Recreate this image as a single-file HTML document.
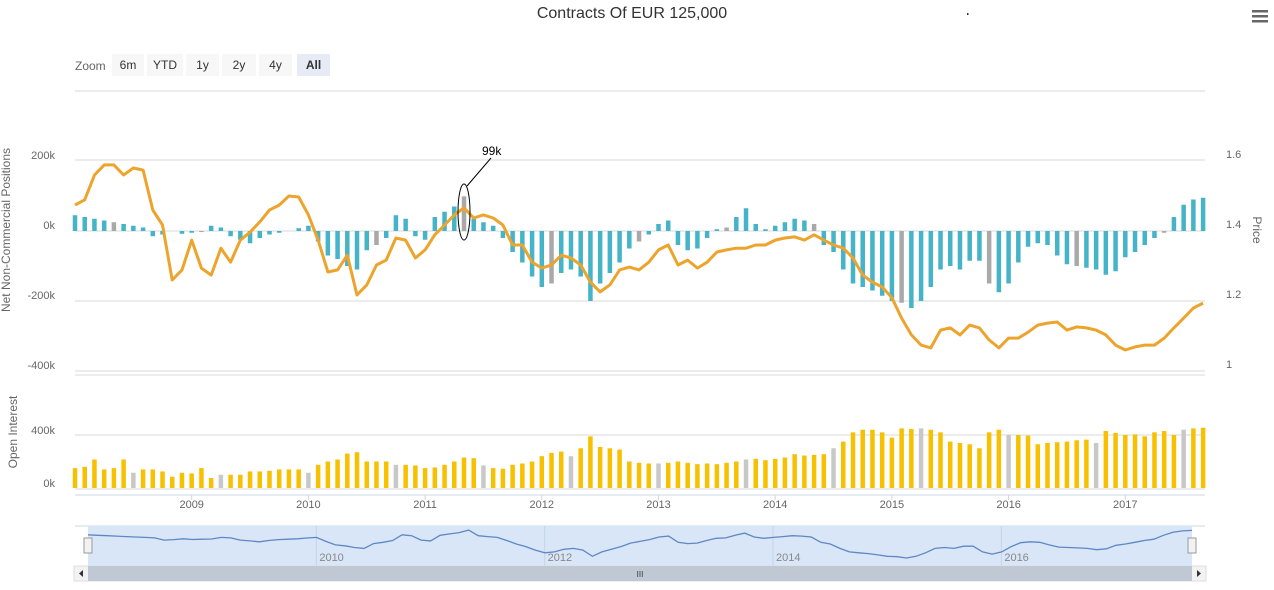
<!DOCTYPE html>
<html><head><meta charset="utf-8"><style>
body{margin:0;background:#fff;font-family:"Liberation Sans",sans-serif;}
svg text{font-family:"Liberation Sans",sans-serif;}
</style></head><body>
<svg id="c" width="1274" height="585" xmlns="http://www.w3.org/2000/svg">
<rect width="1274" height="585" fill="#fff"/>
<text x="632" y="18" text-anchor="middle" font-size="16" fill="#333">Contracts Of EUR 125,000</text>
<rect x="967" y="13" width="1.5" height="2" fill="#333"/>
<g>
<rect x="1252" y="10" width="16" height="2.5" fill="#666"/><rect x="1252" y="15" width="16" height="2.5" fill="#666"/><rect x="1252" y="20" width="16" height="2.5" fill="#666"/>
</g>
<text x="75" y="70" font-size="12" fill="#666">Zoom</text>
<g id="btns"></g>
<g id="plot"></g>
<g id="nav"></g>
</svg>
<script>
const years=['2009','2010','2011','2012','2013','2014','2015','2016','2017'];
const leftTicks=[200,0,-200,-400];
const priceTicks=[1.6,1.4,1.2,1];
const oiTicks=[400,0];
const price=[1.454,1.469,1.540,1.569,1.569,1.540,1.560,1.554,1.440,1.397,1.240,1.269,1.354,1.274,1.254,1.331,1.291,1.354,1.377,1.406,1.440,1.454,1.480,1.477,1.426,1.354,1.263,1.269,1.311,1.197,1.226,1.283,1.297,1.360,1.354,1.303,1.326,1.369,1.397,1.426,1.446,1.417,1.426,1.417,1.397,1.340,1.340,1.291,1.274,1.283,1.311,1.303,1.283,1.234,1.206,1.226,1.269,1.277,1.269,1.291,1.326,1.340,1.283,1.297,1.274,1.291,1.320,1.326,1.331,1.331,1.340,1.340,1.354,1.360,1.363,1.354,1.369,1.354,1.340,1.331,1.303,1.254,1.234,1.220,1.189,1.131,1.083,1.054,1.046,1.097,1.103,1.083,1.111,1.103,1.069,1.046,1.074,1.074,1.091,1.111,1.117,1.120,1.097,1.106,1.103,1.097,1.083,1.054,1.040,1.049,1.054,1.054,1.074,1.103,1.131,1.160,1.174];
const positions=[45,40,35,30,25,20,15,10,-15,-10,0,-8,-5,-3,15,10,-15,-25,-35,-20,-10,-5,0,8,15,-30,-70,-80,-100,-110,-55,-40,-20,45,35,-15,-25,40,55,70,99,35,25,15,-20,-60,-90,-130,-160,-150,-120,-110,-130,-200,-150,-120,-90,-50,-30,-10,20,30,-40,-55,-50,-20,5,10,40,65,20,5,15,25,35,30,20,-40,-60,-110,-150,-160,-170,-185,-200,-205,-220,-200,-160,-110,-100,-110,-85,-85,-150,-175,-150,-90,-45,-35,-40,-70,-95,-100,-105,-110,-125,-115,-75,-60,-40,-20,-5,40,75,90,95];
const openInterest=[150,160,215,140,150,215,115,140,140,125,85,115,110,150,75,100,100,100,125,125,130,140,140,140,115,175,200,215,260,270,200,200,200,175,175,170,150,155,175,200,230,225,170,150,145,175,185,200,240,265,275,240,300,390,310,300,290,200,190,185,185,190,200,190,180,185,180,190,200,215,220,210,220,230,255,245,250,255,300,350,420,440,440,420,380,450,445,450,440,420,350,340,330,300,420,440,400,400,395,330,340,345,350,360,365,340,430,415,400,405,390,420,430,400,440,450,455];
const startYear=2008.0;
const NS='http://www.w3.org/2000/svg';
function mk(tag,attrs,parent){const e=document.createElementNS(NS,tag);for(const k in attrs)e.setAttribute(k,attrs[k]);parent.appendChild(e);return e;}
const X0=75,X1=1205,pxYear=116.7,BW=4.5;
function xYear(y){return X0+(y-startYear)*pxYear;}
function xIdx(i){return xYear(startYear+i/12);}
function yPos(v){return 231-v*70/200;}
function yPrice(p){return 364-(p-1)*350;}
function yOI(v){return 488-v*53/400;}
const plot=document.getElementById('plot');
const btnLabels=['6m','YTD','1y','2y','4y','All'];
const btnX=[112,147,186,222,259,297],btnW=[32,36,33,34,33,33];
const bg=document.getElementById('btns');
btnLabels.forEach((b,i)=>{
 const g=mk('g',{},bg);
 
 
 mk('rect',{x:btnX[i],y:54,width:btnW[i],height:22,fill:i==5?'#e6ebf5':'#f7f7f7'},g);
 const t=mk('text',{x:btnX[i]+btnW[i]/2,y:69,'text-anchor':'middle','font-size':12,fill:'#333','font-weight':i==5?'bold':'normal'},g);
 t.textContent=b;
});
[91,160,231,301,371,375,435,489].forEach(y=>{const l=mk('line',{x1:X0,x2:X1,y1:y,y2:y,stroke:'#d8d8d8','stroke-width':1},plot);

});
mk('line',{x1:X0,x2:X1,y1:495,y2:495,stroke:'#ccd6eb'},plot);
leftTicks.forEach(v=>{const t=mk('text',{x:55,y:yPos(v)-2,'text-anchor':'end','font-size':11,fill:'#666'},plot);t.textContent=v+'k';

});
priceTicks.forEach(v=>{const t=mk('text',{x:1226,y:yPrice(v)+4,'font-size':11,fill:'#666'},plot);t.textContent=String(v);

});
oiTicks.forEach(v=>{const t=mk('text',{x:55,y:yOI(v)-1,'text-anchor':'end','font-size':11,fill:'#666'},plot);t.textContent=v+'k';

});
years.forEach(y=>{const x=xYear(+y);const t=mk('text',{x:x,y:508,'text-anchor':'middle','font-size':11,fill:'#666'},plot);t.textContent=y;


mk('line',{x1:x,x2:x,y1:495,y2:500,stroke:'#ccd6eb'},plot);});
function vt(txt,x,y,rot,name){const t=mk('text',{x:x,y:y,'text-anchor':'middle','font-size':12,fill:'#666',transform:'rotate('+rot+' '+x+' '+y+')'},plot);t.textContent=txt;}
vt('Net Non-Commercial Positions',10,230,-90,'left-axis-title');
vt('Price',1253,230,90,'right-axis-title');
vt('Open Interest',17,432,-90,'oi-axis-title');
positions.forEach((v,i)=>{const x=xIdx(i);const y=yPos(v);const r=mk('rect',{x:x-BW/2,width:BW,y:Math.min(y,231),height:Math.abs(231-y),fill:(i%9==4)?'#a9a9a9':'#45b4c8'},plot);

});
openInterest.forEach((v,i)=>{const x=xIdx(i);const y=yOI(v);const r=mk('rect',{x:x-BW/2,width:BW,y:y,height:488-y,fill:(i%9==6)?'#c8c8c8':'#f7c000'},plot);

});
const pl=mk('path',{d:price.map((p,i)=>(i?'L':'M')+xIdx(i).toFixed(1)+' '+yPrice(p).toFixed(1)).join(''),fill:'none',stroke:'#eca42c','stroke-width':3,'stroke-linejoin':'round'},plot);


const pk=positions.indexOf(99);
const ax=xIdx(pk);
const ag=mk('g',{},plot);


mk('ellipse',{cx:ax,cy:212,rx:6,ry:28,fill:'none',stroke:'#000','stroke-width':1},ag);
mk('line',{x1:ax+3,y1:186,x2:ax+27,y2:158,stroke:'#000','stroke-width':1},ag);
const at=mk('text',{x:ax+18,y:155,'font-size':12,fill:'#000'},ag);at.textContent='99k';
const nav=document.getElementById('nav');
mk('line',{x1:X0,x2:X1,y1:526,y2:526,stroke:'#ccd6eb'},nav);
const sh=mk('rect',{x:88,y:526,width:1104,height:40,fill:'#d8e6f7'},nav);


[2010,2012,2014,2016].forEach(y=>{const x=88+(y-startYear)*1104/(9.67);mk('line',{x1:x,x2:x,y1:526,y2:566,stroke:'#c4d5ea'},nav);
const t=mk('text',{x:x+3,y:561,'font-size':11,fill:'#888'},nav);t.textContent=String(y);

});
function nx(i){return 88+i*1104/(positions.length-1);}
function ny(v){return 558-(v+220)*28/320;}
const nl=mk('path',{d:positions.map((v,i)=>(i?'L':'M')+nx(i).toFixed(1)+' '+ny(v).toFixed(1)).join(''),fill:'none',stroke:'#5f87c4','stroke-width':1.3},nav);


[84,1188].forEach((x,k)=>{const h=mk('rect',{x:x,y:538,width:8,height:15,fill:'#f2f2f2',stroke:'#999'},nav);

});
const sb=mk('rect',{x:74,y:566,width:1132,height:15,fill:'#f2f2f2',stroke:'#ddd'},nav);


const th=mk('rect',{x:88,y:566,width:1104,height:15,fill:'#bfc8d3'},nav);


const gt=mk('text',{x:640,y:577,'text-anchor':'middle','font-size':8,fill:'#333'},nav);gt.textContent='III';
mk('path',{d:'M83 570 L79 573.5 L83 577 Z',fill:'#333'},nav);
mk('path',{d:'M1197 570 L1201 573.5 L1197 577 Z',fill:'#333'},nav);
</script>
</body></html>
